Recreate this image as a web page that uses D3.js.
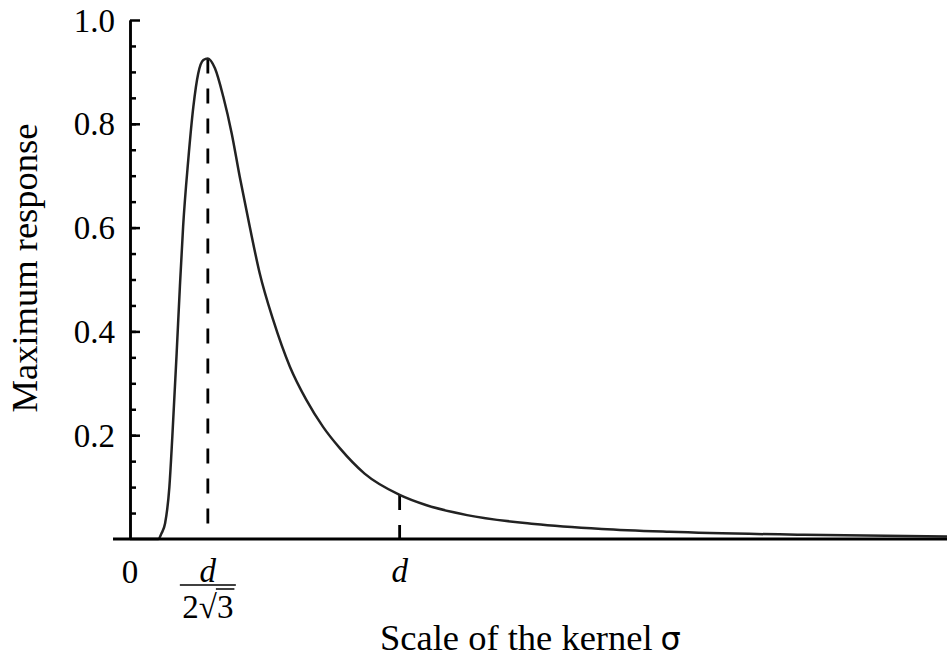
<!DOCTYPE html>
<html>
  <head>
    <meta charset="utf-8">
    <script src="https://d3js.org/d3.v7.min.js"></script>
  </head>
  <style>
    body { margin: 0; background: white; }
    text { font-family: "Liberation Serif", "Times New Roman", serif; fill: #000; }
  </style>
  <body>
    <svg width="947" height="659"></svg>
    <script>
      // curve: sigma (in units of d) -> maximum response
      var sigma = [0, 0.105, 0.117, 0.130, 0.146, 0.157, 0.173, 0.185, 0.197,
        0.216, 0.235, 0.253, 0.272, 0.2887, 0.315, 0.346, 0.377, 0.407, 0.444,
        0.481, 0.531, 0.593, 0.654, 0.716, 0.778, 0.87, 1.0, 1.1, 1.25, 1.5,
        1.75, 2.0, 2.5, 3.03];
      var response = [0, 0, 0.011, 0.03, 0.10, 0.197, 0.358, 0.486, 0.602,
        0.73, 0.833, 0.897, 0.923, 0.926, 0.907, 0.852, 0.782, 0.698, 0.602,
        0.512, 0.422, 0.332, 0.268, 0.216, 0.175, 0.126, 0.085, 0.065, 0.046,
        0.029, 0.0195, 0.014, 0.008, 0.005];

      var yTicks = [0.2, 0.4, 0.6, 0.8, 1.0];
      var yTickLabels = ["0.2", "0.4", "0.6", "0.8", "1.0"];
      var yMinor = d3.range(0.05, 1.0, 0.05);

      var peakIdx = 13;   // sigma = d / (2 sqrt 3)
      var dIdx = 26;      // sigma = d

      var svg = d3.select("svg");

      var x = d3.scaleLinear().domain([0, 3.03]).range([130, 947]);
      var y = d3.scaleLinear().domain([0, 1]).range([539, 20]);

      var data = sigma.map(function (s, i) { return [s, response[i]]; });

      // dashed markers
      function dashed(i) {
        svg.append("line")
          .attr("x1", x(sigma[i])).attr("x2", x(sigma[i]))
          .attr("y1", y(response[i])).attr("y2", y(0))
          .style("stroke", "#000")
          .style("stroke-width", 2.8)
          .style("stroke-dasharray", "15,15");
      }
      dashed(peakIdx);
      dashed(dIdx);

      // curve
      var line = d3.line()
        .x(function (d) { return x(d[0]); })
        .y(function (d) { return y(d[1]); })
        .curve(d3.curveMonotoneX);

      svg.append("path")
        .datum(data)
        .attr("d", line)
        .style("fill", "none")
        .style("stroke", "#222")
        .style("stroke-width", 2.5);

      // y axis, ticks on the inside
      var gy = svg.append("g").attr("transform", "translate(" + x(0) + ",0)");
      gy.call(d3.axisRight(y).tickValues(yMinor).tickSize(6).tickSizeOuter(0).tickFormat(""));
      gy.append("g").call(d3.axisRight(y).tickValues(yTicks).tickSize(10).tickSizeOuter(0).tickFormat(""));
      gy.selectAll("path, line").style("stroke", "#000").style("stroke-width", 2.5);

      yTicks.forEach(function (t, i) {
        svg.append("text")
          .attr("x", 115)
          .attr("y", y(t))
          .attr("dy", "0.35em")
          .attr("text-anchor", "end")
          .style("font-size", "33px")
          .text(yTickLabels[i]);
      });

      // x axis
      svg.append("line")
        .attr("x1", x(-0.063)).attr("x2", x(3.03))
        .attr("y1", y(0)).attr("y2", y(0))
        .style("stroke", "#000")
        .style("stroke-width", 2.8);

      // x tick labels
      svg.append("text")
        .attr("x", x(0))
        .attr("y", 583)
        .attr("text-anchor", "middle")
        .style("font-size", "33px")
        .text("0");

      var px = x(sigma[peakIdx]);
      svg.append("text")
        .attr("x", px)
        .attr("y", 582)
        .attr("text-anchor", "middle")
        .style("font-size", "33px")
        .style("font-style", "italic")
        .text("d");

      svg.append("line")
        .attr("x1", px - 28).attr("x2", px + 28)
        .attr("y1", 585).attr("y2", 585)
        .style("stroke", "#000")
        .style("stroke-width", 1.5);

      var den = svg.append("text")
        .attr("x", px)
        .attr("y", 618)
        .attr("text-anchor", "middle")
        .style("font-size", "33px")
        .text("2\u221A3");

      var n = den.node();
      var s3 = n.getStartPositionOfChar(2).x, e3 = n.getEndPositionOfChar(2).x;
      var sr = n.getEndPositionOfChar(1).x;
      svg.append("line")
        .attr("x1", Math.min(s3, sr) - 1).attr("x2", e3 + 1)
        .attr("y1", 589).attr("y2", 589)
        .style("stroke", "#000")
        .style("stroke-width", 1.5);

      svg.append("text")
        .attr("x", x(sigma[dIdx]))
        .attr("y", 582)
        .attr("text-anchor", "middle")
        .style("font-size", "33px")
        .style("font-style", "italic")
        .text("d");

      // axis titles
      var xt = svg.append("text")
        .attr("x", 380)
        .attr("y", 650)
        .style("font-size", "36.5px");
      xt.append("tspan").text("Scale of the kernel");
      xt.append("tspan")
        .attr("dx", 8)
        .style("font-family", "DejaVu Sans")
        .style("font-size", "32px")
        .text("\u03C3");

      svg.append("text")
        .attr("transform", "translate(37,268) rotate(-90)")
        .attr("text-anchor", "middle")
        .style("font-size", "36.5px")
        .text("Maximum response");
    </script>
  </body>
</html>
